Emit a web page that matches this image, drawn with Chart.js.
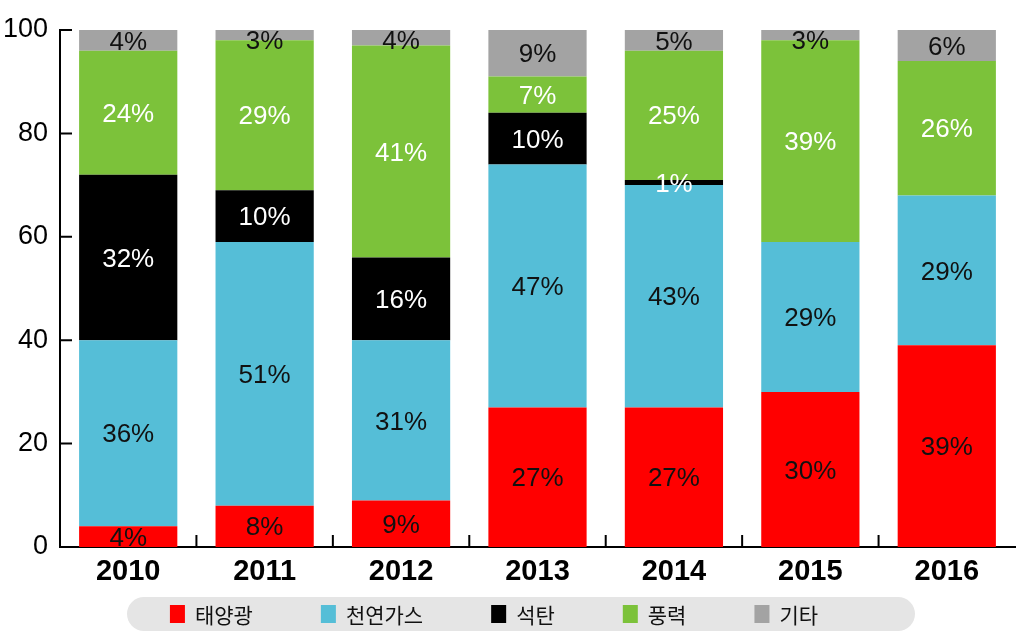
<!DOCTYPE html>
<html>
<head>
<meta charset="utf-8">
<script src="https://cdn.jsdelivr.net/npm/chart.js@4"></script>
<style>
  html, body { margin: 0; padding: 0; background: #fff; }
</style>
</head>
<body>
<canvas id="chart" width="1024" height="640"></canvas>
<script>
// 연도별 발전원 비중 (%)
const years = ['2010', '2011', '2012', '2013', '2014', '2015', '2016'];
const solar = [4, 8, 9, 27, 27, 30, 39];
const gas = [36, 51, 31, 47, 43, 29, 29];
const coal = [32, 10, 16, 10, 1, 0, 0];
const wind = [24, 29, 41, 7, 25, 39, 26];
const other = [4, 3, 4, 9, 5, 3, 6];
const yTicks = [0, 20, 40, 60, 80, 100];

const seriesNames = ['태양광', '천연가스', '석탄', '풍력', '기타'];
const seriesColors = ['#ff0000', '#55bed7', '#000000', '#7cc23a', '#a3a3a3'];
const labelColors = ['#111111', '#111111', '#ffffff', '#ffffff', '#111111'];

const numFont = "'Liberation Sans Narrow', 'Liberation Sans', Arial, sans-serif";
const krFont = "'Noto Sans CJK KR', 'Noto Sans', sans-serif";

// 막대 안쪽 퍼센트 라벨
const segmentLabels = {
    id: 'segmentLabels',
    afterDatasetsDraw(chart) {
        const ctx = chart.ctx;
        const area = chart.chartArea;
        ctx.save();
        ctx.font = `26px ${numFont}`;
        ctx.textAlign = 'center';
        ctx.textBaseline = 'middle';
        chart.data.datasets.forEach((ds, i) => {
            const meta = chart.getDatasetMeta(i);
            meta.data.forEach((bar, j) => {
                const v = ds.data[j];
                if (!v) return;
                const y1 = Math.max(bar.y, area.top);
                const y2 = Math.min(bar.base, area.bottom);
                const cy = Math.max((y1 + y2) / 2 + 2, area.top + 12);
                ctx.fillStyle = labelColors[i];
                ctx.fillText(v + '%', bar.x, cy);
            });
        });
        ctx.restore();
    }
};

// 축 안쪽 눈금
const innerTicks = {
    id: 'innerTicks',
    afterDraw(chart) {
        const { ctx, chartArea: a, scales: { x, y } } = chart;
        ctx.save();
        ctx.strokeStyle = '#000';
        ctx.lineWidth = 2;
        ctx.beginPath();
        yTicks.forEach(t => {
            const py = y.getPixelForValue(t);
            ctx.moveTo(a.left, py);
            ctx.lineTo(a.left + 12, py);
        });
        for (let i = 1; i < years.length; i++) {
            const px = (x.getPixelForTick(i - 1) + x.getPixelForTick(i)) / 2;
            ctx.moveTo(px, a.bottom);
            ctx.lineTo(px, a.bottom - 12);
        }
        ctx.stroke();
        ctx.restore();
    }
};

// 하단 범례 (회색 둥근 배경)
const pillLegend = {
    id: 'pillLegend',
    afterDraw(chart) {
        const { ctx, chartArea: a } = chart;
        const boxW = 15, boxH = 18, gapText = 10, gapItem = 68;
        const pillLeft = a.left + 67, pillRight = a.right - 100;
        const pillTop = chart.height - 43, pillH = 34;
        ctx.save();
        ctx.fillStyle = '#e5e5e5';
        ctx.beginPath();
        ctx.roundRect(pillLeft, pillTop, pillRight - pillLeft, pillH, pillH / 2);
        ctx.fill();

        ctx.font = `21px ${krFont}`;
        const widths = seriesNames.map(n => ctx.measureText(n).width);
        const total = widths.reduce((s, w) => s + boxW + gapText + w, 0) + gapItem * (seriesNames.length - 1);
        let cx = (pillLeft + pillRight) / 2 - 27 - total / 2;
        const cy = pillTop + pillH / 2;
        ctx.textBaseline = 'middle';
        seriesNames.forEach((n, i) => {
            ctx.fillStyle = seriesColors[i];
            ctx.fillRect(cx, cy - boxH / 2, boxW, boxH);
            ctx.fillStyle = '#111';
            ctx.fillText(n, cx + boxW + gapText, cy + 1);
            cx += boxW + gapText + widths[i] + gapItem;
        });
        ctx.restore();
    }
};

const seriesData = [solar, gas, coal, wind, other];

new Chart(document.getElementById('chart').getContext('2d'), {
    type: 'bar',
    data: {
        labels: years,
        datasets: seriesNames.map((name, i) => ({
            label: name,
            data: seriesData[i],
            backgroundColor: seriesColors[i],
            borderWidth: 0,
            barPercentage: 0.72,
            categoryPercentage: 1
        }))
    },
    options: {
        responsive: false,
        animation: false,
        layout: {
            padding: { top: 30, right: 9, bottom: 43, left: 0 }
        },
        plugins: {
            legend: { display: false },
            tooltip: { enabled: false }
        },
        scales: {
            x: {
                stacked: true,
                grid: { display: false, drawTicks: false },
                border: { display: true, color: '#000', width: 2 },
                ticks: {
                    color: '#000',
                    padding: 8,
                    font: { family: numFont, size: 29, weight: 'bold' }
                },
                afterFit(scale) { scale.height = 50; }
            },
            y: {
                stacked: true,
                min: 0,
                max: 100,
                grid: { display: false, drawTicks: false },
                border: { display: true, color: '#000', width: 2 },
                ticks: {
                    stepSize: 20,
                    color: '#000',
                    padding: 12,
                    font: { family: numFont, size: 27 }
                },
                afterFit(scale) { scale.width = 60; }
            }
        }
    },
    plugins: [segmentLabels, innerTicks, pillLegend]
});
</script>
</body>
</html>
